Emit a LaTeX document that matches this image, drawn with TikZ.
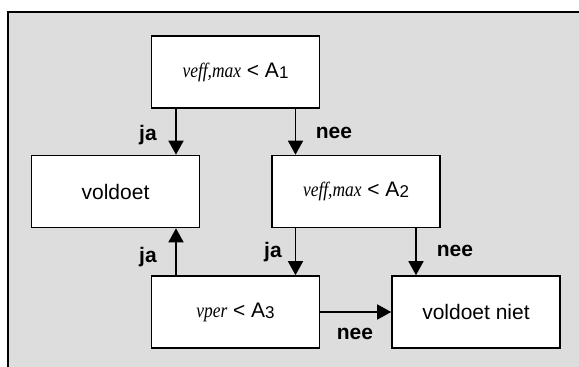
\documentclass[tikz,border=0pt]{standalone}
\usepackage{fontspec}
\newfontfamily\arial{Liberation Sans}
\newfontfamily\timesit{Liberation Serif}
\usetikzlibrary{arrows.meta}
\definecolor{bg}{RGB}{221,221,221}
\newcommand{\vit}[1]{\scalebox{0.85}[1]{\timesit\itshape\fontsize{20.5}{22}\selectfont #1}}
\newcommand{\subn}[1]{\raisebox{-1.2pt}{\fontsize{17}{17}\selectfont #1}}
\begin{document}
\begin{tikzpicture}[x=1pt,y=-1pt,
  box/.style={draw, line width=1.6pt, fill=white, minimum width=168pt,
    minimum height=72pt, inner sep=0pt, font=\arial\fontsize{21}{25}\selectfont},
  conn/.style={line width=1.5pt, -{Triangle[width=15pt,length=14pt]}},
  lbl/.style={font=\arial\bfseries\fontsize{21}{25}\selectfont, inner sep=0pt}]
\useasboundingbox (0,0) rectangle (579,367);
\fill[bg] (7.5,12) rectangle (579,367);
\draw[line width=2pt] (7.5,367) -- (7.5,12) -- (579,12);

\node[box] (b1) at (235.5,72) {\vit{veff,max} < A\subn{1}};
\node[box] (ok) at (115.5,191.5) {voldoet};
\node[box] (b2) at (356,191.5) {\vit{veff,max} < A\subn{2}};
\node[box] (b3) at (235.5,312) {\vit{vper} < A\subn{3}};
\node[box] (no) at (476,312) {voldoet niet};

\draw[conn] (176,0 |- b1.south) -- (176,0 |- ok.north);
\draw[conn] (295.5,0 |- b1.south) -- (295.5,0 |- b2.north);
\draw[conn] (295.5,0 |- b2.south) -- (295.5,0 |- b3.north);
\draw[conn] (416,0 |- b2.south) -- (416,0 |- no.north);
\draw[conn] (176,0 |- b3.north) -- (176,0 |- ok.south);
\draw[conn] (b3.east) -- (no.west);

\node[lbl] (l1) at (148,135) {ja};
\node[lbl] (l2) at (334,133) {nee};
\node[lbl] (l3) at (148,257) {ja};
\node[lbl] (l4) at (273,252) {ja};
\node[lbl] (l5) at (455,251) {nee};
\node[lbl] (l6) at (355,334) {nee};
\end{tikzpicture}
\end{document}
